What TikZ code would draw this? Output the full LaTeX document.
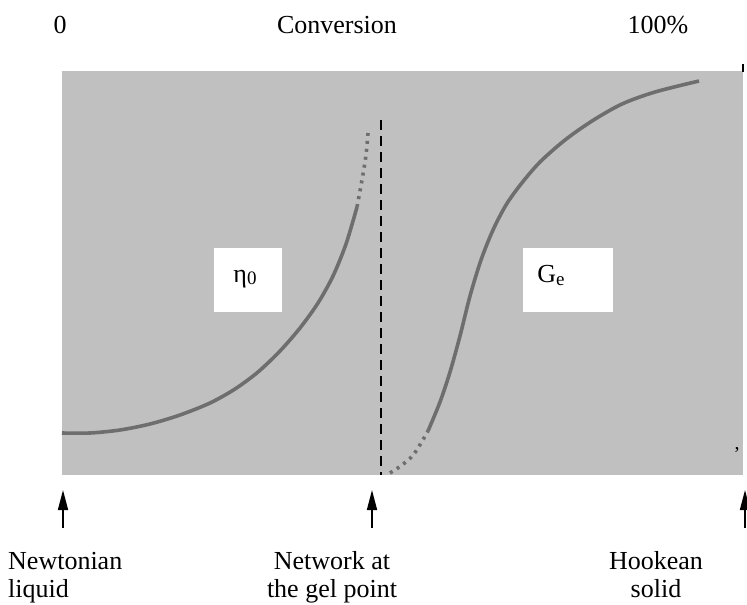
\documentclass[tikz,border=0pt]{standalone}
\usepackage{fontspec}
\setmainfont{Liberation Serif}
\usetikzlibrary{arrows.meta}
\definecolor{panelgrey}{HTML}{C0C0C0}
\definecolor{curvegrey}{HTML}{6E6E6E}
\begin{document}
\begin{tikzpicture}[x=1pt,y=-1pt,
  lbl/.style={font=\fontsize{26}{28}\selectfont, inner sep=0pt},
  curve/.style={line width=3.6pt, color=curvegrey},
  dotcurve/.style={line width=3.6pt, color=curvegrey, dash pattern=on 3pt off 5pt},
  gelline/.style={line width=1.8pt, black, dash pattern=on 10pt off 6pt},
  uparrow/.style={line width=1.6pt, -{Triangle[length=20pt,width=10pt]}},
  labelbox/.style={fill=white, inner sep=0pt}]
\useasboundingbox (0,0) rectangle (747,605);
% panel
\fill[panelgrey] (62,71) rectangle (743,475);
\draw[line width=1.5pt] (743,64) -- (743,72);
\node[lbl, font=\fontsize{20}{20}\selectfont, anchor=base] (comma) at (737,449) {,};
% top labels
\node[lbl, anchor=base] (zero) at (60,34) {0};
\node[lbl, anchor=base] (conv) at (337,34) {Conversion};
\node[lbl, anchor=base] (hundred) at (658,34) {100\%};
% value boxes
\fill[white] (214,248) rectangle (282,312);
\fill[white] (523,248) rectangle (613,312);
\node[lbl, anchor=base] (eta) at (245,282) {η\raisebox{-2.5pt}{\fontsize{19}{19}\selectfont 0}};
\node[lbl, anchor=base] (ge) at (551,282) {G\raisebox{-3pt}{\fontsize{19}{19}\selectfont e}};
% left curve (viscosity)
\draw[curve] plot[smooth] coordinates {(62,433) (90,433) (120,430) (150,424) (180,415) (210,403) (235,389) (258,372) (280,351) (300,328) (318,303) (333,276) (346,244) (357,207)};
\draw[dotcurve] plot[smooth] coordinates {(357,207) (362,180) (366,155) (368,133)};
% gel point line
\draw[gelline] (381,120) -- (381,475);
% right curve (modulus)
\draw[dotcurve] plot[smooth] coordinates {(390,473) (402,465) (414,454) (428,431)};
\draw[curve] plot[smooth] coordinates {(428,431) (440,402) (450,372) (460,336) (470,296) (481,260) (493,230) (506,205) (521,184) (540,162) (565,140) (592,121) (622,104) (655,92) (699,81)};
% arrows and bottom labels
\node[lbl, anchor=base west, align=left] (newt) at (8,597) {Newtonian\\liquid};
\node[lbl, anchor=base, align=center] (gel) at (332,597) {Network at\\the gel point};
\node[lbl, anchor=base, align=center] (hook) at (656,597) {Hookean\\solid};
\coordinate (a1s) at (63,528); \coordinate (a1e) at (63,490);
\coordinate (a2s) at (372,528); \coordinate (a2e) at (372,490);
\coordinate (a3s) at (745,528); \coordinate (a3e) at (745,490);
\draw[uparrow] (a1s) -- (a1e);
\draw[uparrow] (a2s) -- (a2e);
\draw[uparrow] (a3s) -- (a3e);
\end{tikzpicture}
\end{document}
